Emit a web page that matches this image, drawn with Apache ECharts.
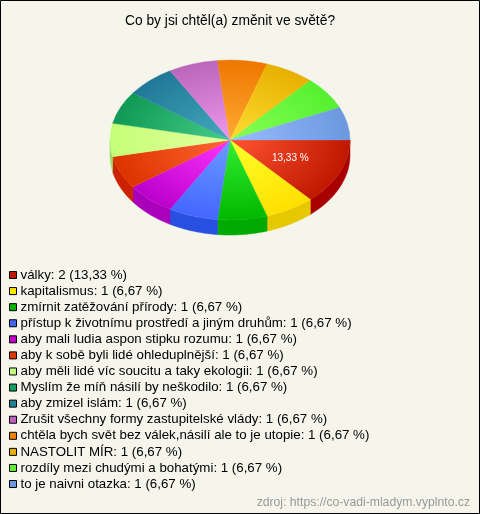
<!DOCTYPE html>
<html><head><meta charset="utf-8">
<style>html,body{margin:0;padding:0;background:#f5f5ec}#c{width:480px;height:514px}</style>
<script src="https://cdn.jsdelivr.net/npm/echarts@6/dist/echarts.min.js"></script>
</head><body><div id="c"></div>
<script>
const categories = ["války","kapitalismus","zmírnit zatěžování přírody","přístup k životnímu prostředí a jiným druhům","aby mali ludia aspon stipku rozumu","aby k sobě byli lidé ohleduplnější","aby měli lidé víc soucitu a taky ekologii","Myslím že míň násilí by neškodilo","aby zmizel islám","Zrušit všechny formy zastupitelské vlády","chtěla bych svět bez válek,násilí ale to je utopie","NASTOLIT MÍR","rozdíly mezi chudými a bohatými","to je naivni otazka"];
const values = [2,1,1,1,1,1,1,1,1,1,1,1,1,1];
const percents = ["13,33","6,67","6,67","6,67","6,67","6,67","6,67","6,67","6,67","6,67","6,67","6,67","6,67","6,67"];
const legendColors = ["#c01800","#ffe600","#00b400","#4068f0","#c000c8","#e03800","#c0ff80","#10a060","#208098","#c060c0","#f08000","#e8b000","#60f030","#6c98e0"];
const centerColors = ["#ff5533","#ffff2a","#33ee33","#6a9cff","#ff33ff","#ff6633","#e6ffa0","#44cc88","#44aabb","#ee99ee","#ffaa33","#ffdd33","#88ff55","#99bbff"];
const rimColors = ["#c01800","#ffe000","#00b800","#4466ff","#bb00cc","#dd3300","#c4ff77","#109955","#207898","#bb66bb","#ee7700","#e6b000","#55f030","#6c98e0"];
const wallColors = ["#a80000","#e6c800","#00aa00","#2850e0","#aa00bb","#cc2200","#99dd66","#0b7a44","#155f78","#964f96","#bb5e00","#b88c00","#40c020","#5078c0"];

const CX=230, CY=140, RX=120, RY=80, DEPTH=15;
const total = values.reduce((a,b)=>a+b,0);
const cum = values.map((v,i)=>values.slice(0,i).reduce((a,b)=>a+b,0));

function renderSlice(idx){
  return function(params, api){
    const a0 = api.value(0)/total*Math.PI*2;
    const a1 = (api.value(0)+api.value(1))/total*Math.PI*2;
    const children = [];
    const e0 = Math.min(a1, Math.PI);
    if (a0 < Math.PI) {
      const top=[], bot=[];
      const steps=24;
      for(let s=0;s<=steps;s++){
        const t=a0+(e0-a0)*s/steps;
        const x=CX+RX*Math.cos(t), y=CY+RY*Math.sin(t);
        top.push([x,y]); bot.unshift([x,y+DEPTH]);
      }
      children.push({type:'polygon',shape:{points:top.concat(bot)},style:{fill:wallColors[idx],stroke:wallColors[idx],lineWidth:0.5}});
    }
    const grad = new echarts.graphic.RadialGradient(0,0,RX,[{offset:0,color:centerColors[idx]},{offset:1,color:rimColors[idx]}],true);
    children.push({type:'group',x:CX,y:CY,scaleY:RY/RX,children:[
      {type:'sector',shape:{cx:0,cy:0,r0:0,r:RX,startAngle:a0,endAngle:a1,clockwise:true},style:{fill:grad,stroke:grad,lineWidth:0.4}}
    ]});
    if (values[idx]/total > 0.1){
      const m=(a0+a1)/2;
      children.push({type:'text',x:CX+RX*0.55*Math.cos(m),y:CY+RY*0.55*Math.sin(m),style:{text:percents[idx]+" %",fill:'#fff',font:'10px "Liberation Sans",Arial,sans-serif',align:'center',verticalAlign:'middle'}});
    }
    return {type:'group',children};
  };
}

const labelOf = {};
categories.forEach((c,i)=>labelOf[c]=c+": "+values[i]+" ("+percents[i]+" %)");

const chart = echarts.init(document.getElementById('c'),null,{renderer:'canvas'});
chart.setOption({
  animation:false,
  backgroundColor:'#f5f5ec',
  title:[{text:'Co by jsi chtěl(a) změnit ve světě?',left:230,top:14,padding:0,textAlign:'center',
    textStyle:{fontFamily:'"Liberation Sans",Arial,sans-serif',fontSize:13.8,fontWeight:'normal',color:'#000'}},
    {text:'zdroj: https://co-vadi-mladym.vyplnto.cz',right:10,top:497,padding:0,
    textStyle:{fontFamily:'"Liberation Sans",Arial,sans-serif',fontSize:12.2,fontWeight:'normal',color:'#999'}}],
  legend:{orient:'vertical',left:9,top:267,itemWidth:7,itemHeight:7,itemGap:0.08,padding:0,icon:'rect',selectedMode:false,
    itemStyle:{borderColor:'#000',borderWidth:1},
    textStyle:{fontFamily:'"Liberation Sans",Arial,sans-serif',fontSize:13.3,color:'#000',lineHeight:16,padding:[0,0,0,-1]},
    formatter:n=>labelOf[n],data:categories},
  graphic:[{type:'rect',silent:true,z:100,shape:{x:0.5,y:0.5,width:479,height:513},style:{fill:'none',stroke:'#000',lineWidth:1}}],
  series:categories.map((c,i)=>({type:'custom',name:c,coordinateSystem:'none',silent:true,
    itemStyle:{color:legendColors[i]},
    renderItem:renderSlice(i),
    data:[[cum[i],values[i]]]}))
});
</script></body></html>
